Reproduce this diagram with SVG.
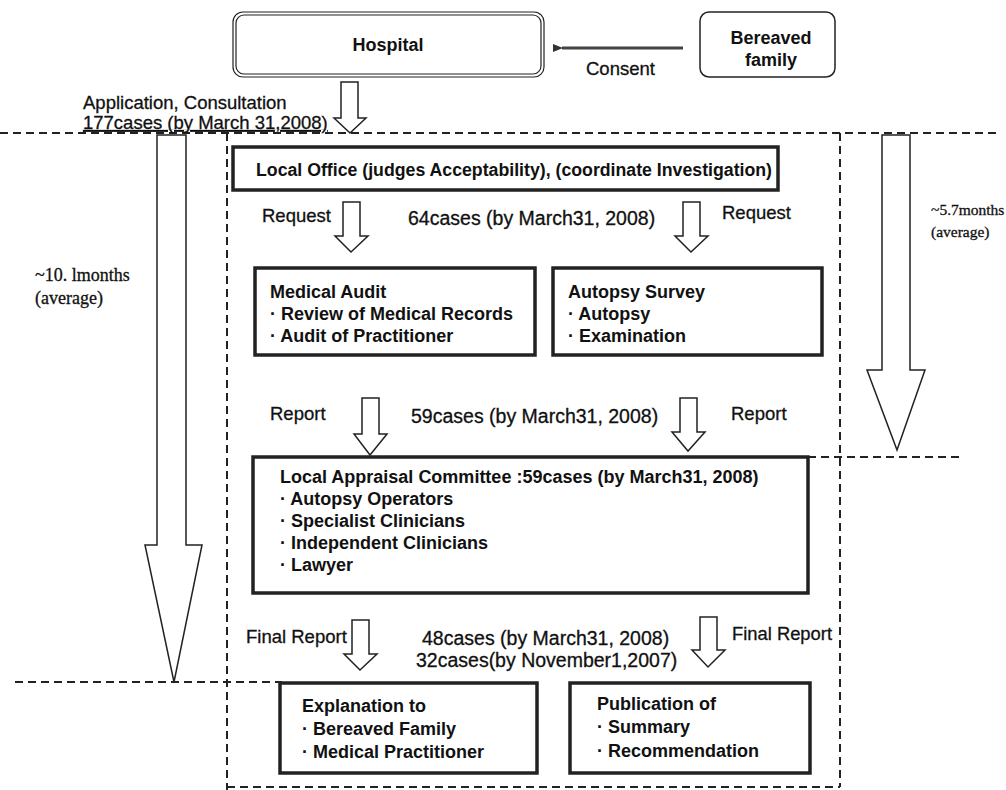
<svg xmlns="http://www.w3.org/2000/svg" width="1006" height="790" viewBox="0 0 1006 790">
<style>
.t{font-family:"Liberation Sans",Arial,sans-serif;font-size:18.5px;fill:#111;stroke:#111;stroke-width:0.3}
.c{font-size:19.5px}
.b{font-weight:bold;font-size:18px;stroke-width:0}
.s{font-family:"Liberation Serif","Times New Roman",serif;fill:#111;stroke:#111;stroke-width:0.3}
.box{fill:#fff;stroke:#222;stroke-width:3.5}
.dash{fill:none;stroke:#222;stroke-width:2;stroke-dasharray:8 5}
.harrow{fill:#fff;stroke:#222;stroke-width:1.5;stroke-linejoin:miter}
</style>
<defs>
<marker id="ah" markerWidth="10" markerHeight="8" refX="1" refY="4" orient="auto" markerUnits="userSpaceOnUse">
<path d="M10,0 L0,4 L10,8 Z" fill="#333"/>
</marker>
</defs>
<rect width="1006" height="790" fill="#fff"/>

<g id="connectors">
<line class="dash" x1="0" y1="133" x2="1000" y2="133"/>
<line class="dash" x1="227" y1="133" x2="227" y2="790"/>
<line class="dash" x1="840" y1="133" x2="840" y2="787"/>
<line class="dash" x1="227" y1="787" x2="840" y2="787"/>
<line class="dash" x1="15" y1="682" x2="282" y2="682"/>
<line class="dash" x1="808" y1="457" x2="962" y2="457"/>
<line x1="683" y1="48" x2="562" y2="48" stroke="#444" stroke-width="3" marker-end="url(#ah)"/>
<path class="harrow" d="M341,82 H358 V118 H366 L350,133 L334,118 H341 Z"/>
<path class="harrow" d="M157,135 H186 V545 H202 L174,682 L145,545 H157 Z"/>
<path class="harrow" d="M882,135 H910 V370 H925 L897,450 L867,370 H882 Z"/>
<path class="harrow" d="M343,202 H360 V236 H368 L351,252 L335,236 H343 Z"/>
<path class="harrow" d="M683,202 H700 V236 H708 L691,252 L675,236 H683 Z"/>
<path class="harrow" d="M362,398 H379 V434 H387 L370,455 L354,434 H362 Z"/>
<path class="harrow" d="M680,398 H697 V432 H705 L688,451 L672,432 H680 Z"/>
<path class="harrow" d="M352,620 H369 V654 H377 L360,670 L344,654 H352 Z"/>
<path class="harrow" d="M700,617 H717 V650 H725 L708,667 L692,650 H700 Z"/>
</g>

<g id="labels">
<text class="t" x="83" y="109">Application, Consultation</text>
<text class="t" x="83" y="129" text-decoration="underline">177cases (by March 31,2008)</text>
<text class="t" x="586" y="75">Consent</text>
<text class="s" x="35" y="281" font-size="18">~10. lmonths</text>
<text class="s" x="35" y="304" font-size="18">(average)</text>
<text class="s" x="931" y="215" font-size="15.5">~5.7months</text>
<text class="s" x="931" y="237" font-size="15.5">(average)</text>
<text class="t" x="262" y="222">Request</text>
<text class="t c" x="408" y="225">64cases (by March31, 2008)</text>
<text class="t" x="722" y="219">Request</text>
<text class="t" x="270" y="420">Report</text>
<text class="t c" x="411" y="423">59cases (by March31, 2008)</text>
<text class="t" x="731" y="420">Report</text>
<text class="t" x="246" y="643">Final Report</text>
<text class="t c" x="422" y="645">48cases (by March31, 2008)</text>
<text class="t c" x="416" y="667">32cases(by November1,2007)</text>
<text class="t" x="732" y="640" textLength="100" lengthAdjust="spacingAndGlyphs">Final Report</text>
</g>

<g id="hospital">
<rect x="233" y="12" width="311" height="65" rx="10" fill="#fff" stroke="#222" stroke-width="1.2"/>
<rect x="236" y="15" width="305" height="59" rx="8" fill="none" stroke="#222" stroke-width="1.2"/>
<text class="t b" x="388" y="51" text-anchor="middle">Hospital</text>
</g>

<g id="bereaved">
<rect x="700" y="12" width="135" height="65" rx="9" fill="#fff" stroke="#222" stroke-width="1.5"/>
<text class="t b" x="771" y="44" text-anchor="middle">Bereaved</text>
<text class="t b" x="771" y="66" text-anchor="middle">family</text>
</g>

<g id="localoffice">
<rect class="box" x="233" y="147" width="545" height="43"/>
<text class="t b" x="256" y="176" textLength="516" lengthAdjust="spacingAndGlyphs">Local Office (judges Acceptability), (coordinate Investigation)</text>
</g>

<g id="medicalaudit">
<rect class="box" x="255" y="268" width="280" height="87"/>
<text class="t b" x="270" y="298">Medical Audit</text>
<text class="t b" x="270" y="320">· Review of Medical Records</text>
<text class="t b" x="270" y="342">· Audit of Practitioner</text>
</g>

<g id="autopsy">
<rect class="box" x="553" y="268" width="269" height="87"/>
<text class="t b" x="568" y="298">Autopsy Survey</text>
<text class="t b" x="568" y="320">· Autopsy</text>
<text class="t b" x="568" y="342">· Examination</text>
</g>

<g id="appraisal">
<rect class="box" x="253" y="457" width="555" height="136"/>
<text class="t b" x="280" y="483">Local Appraisal Committee :59cases (by March31, 2008)</text>
<text class="t b" x="280" y="505">· Autopsy Operators</text>
<text class="t b" x="280" y="527">· Specialist Clinicians</text>
<text class="t b" x="280" y="549">· Independent Clinicians</text>
<text class="t b" x="280" y="571">· Lawyer</text>
</g>

<g id="explanation">
<rect class="box" x="280" y="683" width="257" height="90"/>
<text class="t b" x="302" y="712">Explanation to</text>
<text class="t b" x="302" y="735">· Bereaved Family</text>
<text class="t b" x="302" y="758">· Medical Practitioner</text>
</g>

<g id="publication">
<rect class="box" x="570" y="683" width="240" height="90"/>
<text class="t b" x="597" y="710">Publication of</text>
<text class="t b" x="597" y="733">· Summary</text>
<text class="t b" x="597" y="757">· Recommendation</text>
</g>
</svg>
